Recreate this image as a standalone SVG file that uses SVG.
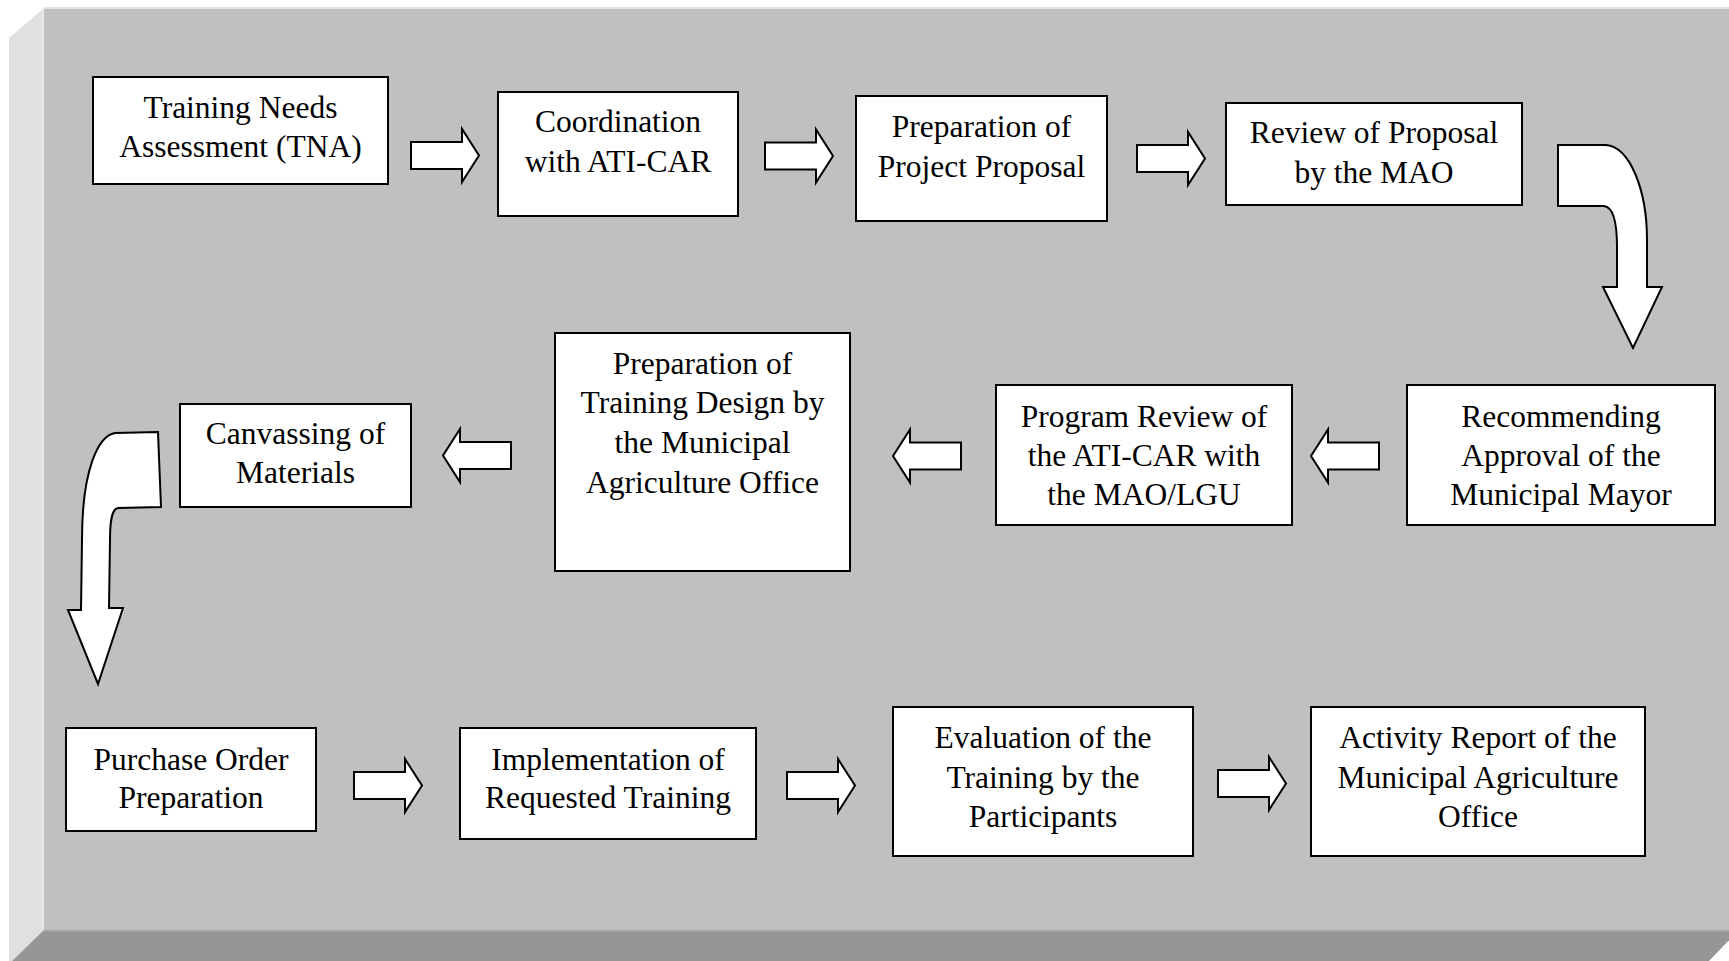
<svg xmlns="http://www.w3.org/2000/svg" width="1729" height="961" viewBox="0 0 1729 961">
<style>
.box{fill:#fff;stroke:#000;stroke-width:2}
.t{font-family:"Liberation Serif","Times New Roman",serif;font-size:31.5px;fill:#000;text-anchor:middle}
.arr{fill:#fff;stroke:#000;stroke-width:2;stroke-linejoin:miter}
</style>
<defs>
<path id="ba" d="M0,-13.5 H51 V-26.5 L68,0 L51,26.5 V13.5 H0 Z"/>
</defs>
<rect x="0" y="0" width="1729" height="961" fill="#fff"/>
<g id="frame">
<rect x="44" y="7" width="1700" height="923" fill="#c0c0c0"/>
<rect x="44" y="7" width="1700" height="2" fill="#e2e2e2"/>
<polygon points="9,38 44,8 44,930 12,961 9,961" fill="#e0e0e0"/>
<rect x="42" y="9" width="2" height="921" fill="#e8e8e8"/>
<polygon points="44,930 1739,930 1709,961 12,961" fill="#969696"/>
<rect x="44" y="930" width="1694" height="2" fill="#a4a4a4"/>
</g>
<g id="connectors">
<use href="#ba" class="arr" transform="translate(411,155.5)"/>
<use href="#ba" class="arr" transform="translate(765,156)"/>
<use href="#ba" class="arr" transform="translate(1137,158.5)"/>
<path class="arr" d="M1558,145 H1606 C1630,147 1647,190 1647,240 V287 H1662 L1633,348 L1603,287 H1617 V247 C1617,225 1614,207 1604,206 H1558 Z"/>
<use href="#ba" class="arr" transform="translate(1379,456) scale(-1,1)"/>
<use href="#ba" class="arr" transform="translate(961,456) scale(-1,1)"/>
<use href="#ba" class="arr" transform="translate(511,455.5) scale(-1,1)"/>
<path class="arr" d="M158,432 L115,433 C98,436 82,470 82,540 L81,610 H68 L98,684 L123,608 H109 L110,540 C110,520 112,509 118,508 L161,507 Z"/>
<use href="#ba" class="arr" transform="translate(354,785.5)"/>
<use href="#ba" class="arr" transform="translate(787,785.5)"/>
<use href="#ba" class="arr" transform="translate(1218,783.5)"/>
</g>
<g id="n1"><rect class="box" x="93" y="77" width="295" height="107"/>
<text class="t" x="240.5" y="118">Training Needs</text><text class="t" x="240.5" y="157">Assessment (TNA)</text></g>
<g id="n2"><rect class="box" x="498" y="92" width="240" height="124"/>
<text class="t" x="618" y="132">Coordination</text><text class="t" x="618" y="172">with ATI-CAR</text></g>
<g id="n3"><rect class="box" x="856" y="96" width="251" height="125"/>
<text class="t" x="981.5" y="137">Preparation of</text><text class="t" x="981.5" y="177">Project Proposal</text></g>
<g id="n4"><rect class="box" x="1226" y="103" width="296" height="102"/>
<text class="t" x="1374" y="143">Review of Proposal</text><text class="t" x="1374" y="183">by the MAO</text></g>
<g id="n5"><rect class="box" x="1407" y="385" width="308" height="140"/>
<text class="t" x="1561" y="427">Recommending</text><text class="t" x="1561" y="466">Approval of the</text><text class="t" x="1561" y="505">Municipal Mayor</text></g>
<g id="n6"><rect class="box" x="996" y="385" width="296" height="140"/>
<text class="t" x="1144" y="427">Program Review of</text><text class="t" x="1144" y="466">the ATI-CAR with</text><text class="t" x="1144" y="505">the MAO/LGU</text></g>
<g id="n7"><rect class="box" x="555" y="333" width="295" height="238"/>
<text class="t" x="702.5" y="374">Preparation of</text><text class="t" x="702.5" y="413">Training Design by</text><text class="t" x="702.5" y="453">the Municipal</text><text class="t" x="702.5" y="493">Agriculture Office</text></g>
<g id="n8"><rect class="box" x="180" y="404" width="231" height="103"/>
<text class="t" x="295.5" y="444">Canvassing of</text><text class="t" x="295.5" y="483">Materials</text></g>
<g id="n9"><rect class="box" x="66" y="728" width="250" height="103"/>
<text class="t" x="191" y="770">Purchase Order</text><text class="t" x="191" y="808">Preparation</text></g>
<g id="n10"><rect class="box" x="460" y="728" width="296" height="111"/>
<text class="t" x="608" y="770">Implementation of</text><text class="t" x="608" y="808">Requested Training</text></g>
<g id="n11"><rect class="box" x="893" y="707" width="300" height="149"/>
<text class="t" x="1043" y="748">Evaluation of the</text><text class="t" x="1043" y="788">Training by the</text><text class="t" x="1043" y="827">Participants</text></g>
<g id="n12"><rect class="box" x="1311" y="707" width="334" height="149"/>
<text class="t" x="1478" y="748">Activity Report of the</text><text class="t" x="1478" y="788">Municipal Agriculture</text><text class="t" x="1478" y="827">Office</text></g>
</svg>
